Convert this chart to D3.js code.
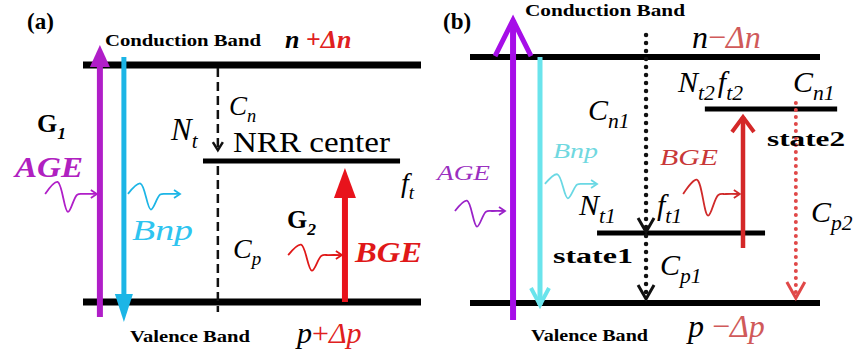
<!DOCTYPE html>
<html>
<head>
<meta charset="utf-8">
<script src="https://cdn.jsdelivr.net/npm/d3@7"></script>
</head>
<body style="margin:0">
<script>
const SERIF = "'Liberation Serif'"

// energy levels, valence band = 0, conduction band = 1
const levelEnergyA = [1, 0.595, 0]
const levelSpanA = [[0, 1], [0.355, 0.938], [0, 1]]
const levelEnergyB = [1, 0.789, 0.285, 0]
const levelSpanB = [[0, 1], [0.671, 1.049], [0.363, 0.843], [0, 1]]

// transitions: x across the panel, energy at start and at arrow tip
const transitionsA = [
  { name: "AGE", x: 0.050, from: -0.063, to: 1.084 },
  { name: "Bnp", x: 0.121, from: 1.034, to: -0.084 },
  { name: "Cn",  x: 0.399, from: 0.987, to: 0.641 },
  { name: "Cp",  x: 0.399, from: 0.574, to: -0.042 },
  { name: "BGE", x: 0.775, from: 0, to: 0.565 }
]
const transitionsB = [
  { name: "AGE", x: 0.123, from: -0.069, to: 1.150 },
  { name: "Bnp", x: 0.200, from: 1.0, to: -0.008 },
  { name: "Cn1", x: 0.503, from: 1.089, to: 0.289 },
  { name: "Cp1", x: 0.503, from: 0.272, to: 0.016 },
  { name: "BGE", x: 0.780, from: 0.224, to: 0.756 },
  { name: "Cp2", x: 0.931, from: 0.813, to: 0.020 }
]

// photons: start / end x and energy of the wave axis
const photonsA = [
  { name: "AGE", x0: -0.112, x1: 0.041, e: 0.456, amp: 15 },
  { name: "Bnp", x0: 0.133, x1: 0.287, e: 0.456, amp: 13 },
  { name: "BGE", x0: 0.607, x1: 0.766, e: 0.198, amp: 13 }
]
const photonsB = [
  { name: "AGE", x0: -0.043, x1: 0.100, e: 0.374, amp: 13 },
  { name: "Bnp", x0: 0.214, x1: 0.363, e: 0.484, amp: 12 },
  { name: "BGE", x0: 0.609, x1: 0.771, e: 0.443, amp: 18 }
]

const panelTitles = ["(a)", "(b)"]
const bandNames = ["Conduction Band", "Valence Band"]

const styleA = {
  AGE: { color: "#b01ec8", width: 6, head: "fill", hw: 10, hl: 22 },
  Bnp: { color: "#1cb5e6", width: 5, head: "fill", hw: 9, hl: 28 },
  Cn:  { color: "#111", width: 2.5, head: "open", hw: 5, hl: 8, dash: "9 5" },
  Cp:  { color: "#111", width: 2.5, head: "none", dash: "9 5" },
  BGE: { color: "#e8131c", width: 6, head: "fill", hw: 11, hl: 30 }
}
const styleB = {
  AGE: { color: "#a60ee8", width: 6, head: "open", hw: 18, hl: 36, hs: 5 },
  Bnp: { color: "#6ae4ec", width: 5, head: "open", hw: 9, hl: 17, hs: 4 },
  Cn1: { color: "#111", width: 4.5, head: "open", hw: 8, hl: 14, hs: 3, dash: "0 8", cap: "round" },
  Cp1: { color: "#111", width: 4.5, head: "open", hw: 8, hl: 14, hs: 3, dash: "0 8", cap: "round" },
  BGE: { color: "#d42828", width: 4.5, head: "open", hw: 11, hl: 15, hs: 4 },
  Cp2: { color: "#e04848", width: 4, head: "open", hw: 9, hl: 16, hs: 3, dash: "0 7", cap: "round" }
}
const photonColorA = { AGE: "#b01ec8", Bnp: "#1cb5e6", BGE: "#e01818" }
const photonColorB = { AGE: "#9a22c8", Bnp: "#6ad8e4", BGE: "#d02a2a" }

const svg = d3.select("body").append("svg")
  .attr("width", 861).attr("height", 356)
  .attr("font-family", "Liberation Serif")
  .style("display", "block")

const xA = d3.scaleLinear().domain([0, 1]).range([83, 421])
const yA = d3.scaleLinear().domain([0, 1]).range([302, 65])
const xB = d3.scaleLinear().domain([0, 1]).range([470, 820])
const yB = d3.scaleLinear().domain([0, 1]).range([303, 57])

function drawLevels(g, x, y, energies, spans, widths) {
  g.selectAll("line.level").data(energies).enter().append("line")
    .attr("class", "level")
    .attr("x1", (d, i) => x(spans[i][0]))
    .attr("x2", (d, i) => x(spans[i][1]))
    .attr("y1", d => y(d)).attr("y2", d => y(d))
    .attr("stroke", "#000")
    .attr("stroke-width", (d, i) => widths[i])
}

function drawArrow(g, x, y, t, st) {
  let px = x(t.x), y1 = y(t.from), y2 = y(t.to)
  let dir = y2 < y1 ? -1 : 1
  let lineEnd = st.head == "fill" ? y2 - dir * st.hl * 0.8 : y2
  g.append("line")
    .attr("x1", px).attr("x2", px)
    .attr("y1", y1).attr("y2", lineEnd)
    .attr("stroke", st.color)
    .attr("stroke-width", st.width)
    .attr("stroke-linecap", st.cap || "butt")
    .attr("stroke-dasharray", st.dash || null)
  if (st.head == "fill") {
    g.append("path")
      .attr("d", d3.line()([[px, y2], [px - st.hw, y2 - dir * st.hl], [px + st.hw, y2 - dir * st.hl]]) + "Z")
      .attr("fill", st.color)
  } else if (st.head == "open") {
    g.append("path")
      .attr("d", d3.line()([[px - st.hw, y2 - dir * st.hl], [px, y2], [px + st.hw, y2 - dir * st.hl]]))
      .attr("fill", "none")
      .attr("stroke", st.color)
      .attr("stroke-width", st.hs || 2.5)
      .attr("stroke-linejoin", "miter")
  }
}

// wave packet glyph for a photon, ends with a small arrow
function drawPhoton(g, x, y, p, color) {
  let x0 = x(p.x0), x1 = x(p.x1), yc = y(p.e), L = x1 - x0, a = p.amp
  let shape = [[0, 0], [0.24, -0.8], [0.44, 1.2], [0.62, 0.05], [0.75, 0], [1, 0]]
  let pts = shape.map(s => [x0 + s[0] * L, yc + s[1] * a])
  g.append("path")
    .attr("d", d3.line().curve(d3.curveCatmullRom)(pts))
    .attr("fill", "none").attr("stroke", color).attr("stroke-width", 1.8)
  g.append("path")
    .attr("d", d3.line()([[x1 - 6, yc - 4], [x1, yc], [x1 - 6, yc + 4]]))
    .attr("fill", "none").attr("stroke", color).attr("stroke-width", 1.8)
}

// text pieces laid one after the other, subscripts smaller and lower
function label(x, y, size, parts, base) {
  let cx = x
  for (let [s, o] of parts) {
    o = o || {}
    let fs = o.sub ? size * (o.scale || 0.68) : size
    cx += o.dx || 0
    let it = o.italic != undefined ? o.italic : base.italic
    let bd = o.bold != undefined ? o.bold : base.bold
    let t = svg.append("text")
      .attr("x", cx).attr("y", o.sub ? y + size * 0.25 : y)
      .attr("font-family", "Liberation Serif")
      .style("font-family", SERIF, "important")
      .style("font-size", fs + "px", "important")
      .style("font-style", it ? "italic" : "normal", "important")
      .style("font-weight", bd ? "bold" : "normal", "important")
      .style("fill", o.color || base.color || "#000")
      .style("white-space", "pre")
      .text(s)
    if (base.len) t.attr("textLength", base.len).attr("lengthAdjust", "spacingAndGlyphs")
    cx += base.len || t.node().getComputedTextLength()
  }
}

// ---------- panel (a)
let gA = svg.append("g")
drawLevels(gA, xA, yA, levelEnergyA, levelSpanA, [7, 5, 7])
for (let t of transitionsA) drawArrow(gA, xA, yA, t, styleA[t.name])
for (let p of photonsA) drawPhoton(gA, xA, yA, p, photonColorA[p.name])

label(27, 29, 23, [[panelTitles[0]]], { bold: true })
label(105, 46, 17, [[bandNames[0]]], { bold: true, len: 156 })
label(130, 342, 17, [[bandNames[1]]], { bold: true, len: 120 })
label(285, 48, 26, [["n"], [" +", { color: "#e02020", italic: false }], ["\u0394n", { color: "#e02020" }]], { bold: true, italic: true })
label(297, 343, 30, [["p"], ["+", { color: "#e02020", italic: false }], ["\u0394p", { color: "#e02020" }]], { italic: true })
label(37, 132, 26, [["G"], ["1", { sub: true, italic: true }]], { bold: true })
label(15, 177, 30, [["AGE"]], { bold: true, italic: true, color: "#b020c0", len: 68 })
label(171, 140, 31, [["N"], ["t", { sub: true }]], { italic: true })
label(229, 115, 27, [["C"], ["n", { sub: true }]], { italic: true })
label(233, 152, 30, [["NRR center"]], { len: 157 })
label(401, 192, 28, [["f"], ["t", { sub: true }]], { italic: true })
label(132, 240, 30, [["Bnp"]], { italic: true, color: "#2ec4f0", len: 61 })
label(233, 258, 28, [["C"], ["p", { sub: true }]], { italic: true })
label(287, 228, 26, [["G"], ["2", { sub: true, italic: true }]], { bold: true })
label(355, 262, 30, [["BGE"]], { bold: true, italic: true, color: "#e01818", len: 67 })

// ---------- panel (b)
let gB = svg.append("g")
drawLevels(gB, xB, yB, levelEnergyB, levelSpanB, [6, 5, 5, 6])
for (let t of transitionsB) drawArrow(gB, xB, yB, t, styleB[t.name])
for (let p of photonsB) drawPhoton(gB, xB, yB, p, photonColorB[p.name])

label(443, 29, 23, [[panelTitles[1]]], { bold: true })
label(525, 16, 16, [[bandNames[0]]], { bold: true, len: 160 })
label(531, 341, 16, [[bandNames[1]]], { bold: true, len: 117 })
label(692, 48, 32, [["n"], ["\u2212", { color: "#d05a5a", italic: false }], ["\u0394n", { color: "#d05a5a" }]], { italic: true })
label(688, 337, 32, [["p"], [" \u2212", { color: "#d05a5a", italic: false }], ["\u0394p", { color: "#d05a5a" }]], { italic: true })
label(588, 120, 30, [["C"], ["n1", { sub: true, scale: 0.72 }]], { italic: true })
label(678, 92, 30, [["N"], ["t2", { sub: true, scale: 0.72 }], ["f", { dx: 3 }], ["t2", { sub: true, scale: 0.72 }]], { italic: true })
label(793, 92, 30, [["C"], ["n1", { sub: true, scale: 0.72 }]], { italic: true })
label(767, 146, 20, [["state2"]], { bold: true, len: 78 })
label(553, 158, 22, [["Bnp"]], { italic: true, color: "#70d8e0", len: 45 })
label(660, 165, 24, [["BGE"]], { italic: true, color: "#c83838", len: 58 })
label(437, 180, 22, [["AGE"]], { italic: true, color: "#9a2fc0", len: 53 })
label(579, 215, 30, [["N"], ["t1", { sub: true, scale: 0.72 }]], { italic: true })
label(657, 215, 30, [["f"], ["t1", { sub: true, scale: 0.72 }]], { italic: true })
label(811, 222, 30, [["C"], ["p2", { sub: true, scale: 0.72 }]], { italic: true })
label(553, 263, 20, [["state1"]], { bold: true, len: 80 })
label(660, 275, 30, [["C"], ["p1", { sub: true, scale: 0.72 }]], { italic: true })
</script>
</body>
</html>
